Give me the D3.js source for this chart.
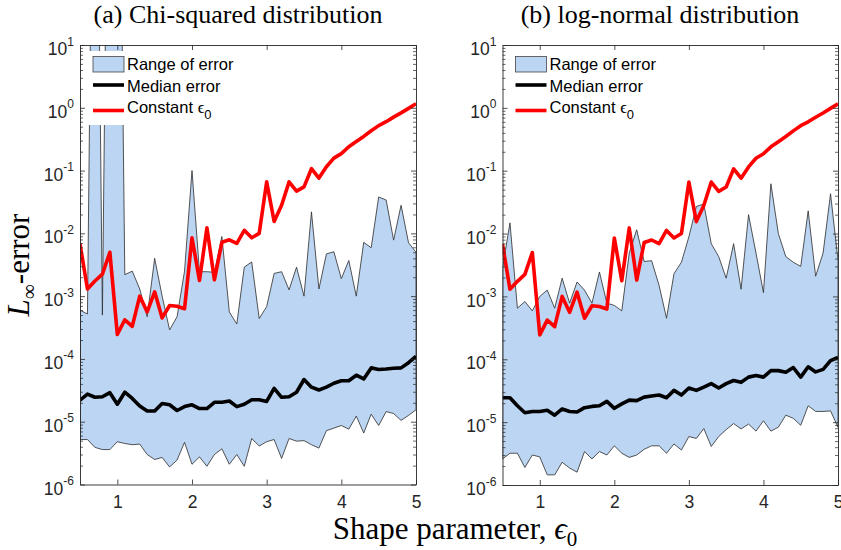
<!DOCTYPE html>
<html>
<head>
<meta charset="utf-8">
<script src="https://cdn.jsdelivr.net/npm/d3@7"></script>
<style>
  html, body { margin: 0; padding: 0; background: #fff; }
  svg { display: block; }
</style>
</head>
<body>
<svg id="chart" width="841" height="550"></svg>
<script>
// Shape parameter grid
const shapeParam = [0.5, 0.6, 0.7, 0.8, 0.9, 1.0, 1.1, 1.2, 1.3, 1.4, 1.5, 1.6, 1.7, 1.8, 1.9,
  2.0, 2.1, 2.2, 2.3, 2.4, 2.5, 2.6, 2.7, 2.8, 2.9, 3.0, 3.1, 3.2, 3.3, 3.4, 3.5, 3.6, 3.7,
  3.8, 3.9, 4.0, 4.1, 4.2, 4.3, 4.4, 4.5, 4.6, 4.7, 4.8, 4.9, 5.0];

// (a) Chi-squared distribution
const chiUpper = [6.0e-4, 5.2e-4, 1e13, 5.0e-4, 1e13, 1e13, 2.2e-3, 2.5e-3, 1.3e-3, 4.7e-4,
  4.0e-3, 1.0e-3, 2.9e-4, 4.7e-4, 2.5e-3, 0.1, 2.45e-3, 2.45e-3, 2.4e-3, 8.9e-3,
  5.6e-4, 3.6e-4, 2.9e-3, 3.5e-3, 4.4e-4, 6.8e-4, 2.3e-3, 2.45e-3, 1.26e-3, 2.9e-3,
  1.0e-3, 2.2e-2, 1.3e-3, 4.7e-3, 5.1e-3, 1.9e-3, 3.7e-3, 1.0e-3, 7.2e-3, 5.9e-3,
  3.8e-2, 3.4e-2, 7.8e-3, 2.8e-2, 7.1e-3, 5.0e-3];
const chiLower = [5.2e-6, 5.2e-6, 3.9e-6, 3.6e-6, 3.6e-6, 4.8e-6, 4.5e-6, 4.3e-6, 4.4e-6, 3.0e-6,
  2.5e-6, 2.7e-6, 1.9e-6, 2.45e-6, 4.7e-6, 2.1e-6, 2.75e-6, 1.95e-6, 3.0e-6, 3.7e-6,
  2.1e-6, 3.0e-6, 1.95e-6, 5.4e-6, 4.1e-6, 4.8e-6, 5.2e-6, 2.6e-6, 5.4e-6, 4.9e-6,
  5.0e-6, 4.3e-6, 3.8e-6, 7.2e-6, 7.9e-6, 8.7e-6, 7.6e-6, 1.23e-5, 6.6e-6, 1.32e-5,
  8.7e-6, 1.45e-5, 1.35e-5, 1.05e-5, 1.26e-5, 1.55e-5];
const chiMedian = [2.2e-5, 2.75e-5, 2.45e-5, 2.5e-5, 2.9e-5, 1.9e-5, 2.95e-5, 2.35e-5, 1.78e-5, 1.48e-5,
  1.48e-5, 1.95e-5, 1.86e-5, 1.51e-5, 1.74e-5, 1.86e-5, 1.62e-5, 1.62e-5, 2.04e-5, 2.04e-5,
  2.14e-5, 1.74e-5, 1.9e-5, 2.24e-5, 2.24e-5, 2.1e-5, 3.4e-5, 2.45e-5, 2.5e-5, 2.95e-5,
  4.7e-5, 3.55e-5, 3.2e-5, 3.55e-5, 4.1e-5, 4.5e-5, 4.5e-5, 5.5e-5, 4.8e-5, 7.2e-5,
  6.8e-5, 6.9e-5, 7.1e-5, 7.2e-5, 8.7e-5, 1.1e-4];

// (b) log-normal distribution
const logUpper = [2.8e-3, 1.48e-2, 6.5e-4, 8.3e-4, 5.9e-4, 1.0e-3, 1.26e-3, 6.5e-4, 1.95e-3, 7.8e-4,
  1.7e-3, 1.26e-3, 7.8e-4, 2.45e-3, 7.8e-4, 7.2e-4, 5.9e-4, 4.9e-3, 1.15e-2, 3.6e-3,
  3.7e-3, 1.5e-3, 4.5e-4, 2.3e-3, 3.5e-3, 8.9e-3, 2.7e-2, 2.95e-2, 6.9e-3, 4.3e-3,
  1.95e-3, 6.9e-3, 1.3e-3, 2.0e-2, 4.9e-3, 1.15e-3, 6.2e-2, 1.0e-2, 4.3e-3, 3.5e-3,
  3.0e-3, 2.3e-2, 2.1e-3, 4.9e-3, 4.3e-2, 3.8e-3];
const logLower = [2.6e-6, 3.2e-6, 3.2e-6, 1.9e-6, 3.0e-6, 2.8e-6, 1.45e-6, 1.45e-6, 2.3e-6, 1.86e-6,
  1.6e-6, 3.4e-6, 2.6e-6, 3.4e-6, 3.0e-6, 4.2e-6, 3.2e-6, 2.75e-6, 3.0e-6, 3.7e-6,
  4.2e-6, 4.2e-6, 3.2e-6, 4.5e-6, 3.6e-6, 5.9e-6, 5.5e-6, 7.9e-6, 4.1e-6, 5.9e-6,
  7.6e-6, 9.5e-6, 7.8e-6, 9.3e-6, 7.2e-6, 1.05e-5, 7.2e-6, 8.3e-6, 1.29e-5, 1.15e-5,
  8.9e-6, 1.82e-5, 1.48e-5, 1.48e-5, 1.51e-5, 8.3e-6];
const logMedian = [2.45e-5, 2.45e-5, 1.82e-5, 1.41e-5, 1.48e-5, 1.48e-5, 1.55e-5, 1.29e-5, 1.62e-5, 1.48e-5,
  1.45e-5, 1.7e-5, 1.78e-5, 1.82e-5, 2.14e-5, 1.66e-5, 1.95e-5, 2.24e-5, 2.2e-5, 2.5e-5,
  2.6e-5, 2.7e-5, 2.45e-5, 3.2e-5, 2.7e-5, 3.5e-5, 3.2e-5, 3.6e-5, 4.1e-5, 3.5e-5,
  4.1e-5, 4.6e-5, 4.3e-5, 5.2e-5, 5.5e-5, 5.2e-5, 6.6e-5, 6.6e-5, 6.2e-5, 7.4e-5,
  5.2e-5, 7.6e-5, 6.3e-5, 6.9e-5, 9.5e-5, 1.07e-4];

// Error with a constant shape parameter (same in both panels)
const constantErr = [6.8e-3, 1.3e-3, 1.74e-3, 2.24e-3, 5.0e-3, 2.45e-4, 4.2e-4, 3.3e-4, 1.0e-3, 5.6e-4,
  1.17e-3, 4.5e-4, 7.1e-4, 6.9e-4, 6.3e-4, 8.5e-3, 1.78e-3, 1.23e-2, 1.82e-3, 7.2e-3,
  7.9e-3, 6.9e-3, 1.12e-2, 8.5e-3, 1.0e-2, 6.6e-2, 1.55e-2, 2.8e-2, 6.6e-2, 4.7e-2,
  5.5e-2, 0.107, 7.6e-2, 0.115, 0.158, 0.186, 0.24, 0.29, 0.35, 0.43,
  0.52, 0.60, 0.71, 0.83, 0.98, 1.16];

const xTicks = [1, 2, 3, 4, 5];
const yExponents = [-6, -5, -4, -3, -2, -1, 0, 1];
const legendLabels = ["Range of error", "Median error", "Constant "];
const panelTitles = ["(a) Chi-squared distribution", "(b) log-normal distribution"];

const svg = d3.select("#chart");
const axisColor = "#262626";
const fillColor = "#bbd5f2";
const sansFont = "'Liberation Sans', Arial, sans-serif";
const serifFont = "'Liberation Serif', 'Times New Roman', serif";

const panels = [
  { left: 80, right: 416, top: 45, bottom: 484.5, upper: chiUpper, lower: chiLower, median: chiMedian, title: panelTitles[0], tx: 238 },
  { left: 502.5, right: 838, top: 45, bottom: 485, upper: logUpper, lower: logLower, median: logMedian, title: panelTitles[1], tx: 660 }
];

const minorTicks = [];
for (let e = -6; e < 1; e++) for (let m = 2; m <= 9; m++) minorTicks.push(m * Math.pow(10, e));
const majorTicks = yExponents.map(e => Math.pow(10, e));

panels.forEach((p, i) => {
  const x = d3.scaleLinear().domain([0.5, 5]).range([p.left, p.right]);
  const y = d3.scaleLog().domain([1e-6, 10]).range([p.bottom, p.top]);
  const g = svg.append("g");

  const clipId = "clip" + i;
  svg.append("clipPath").attr("id", clipId)
    .append("rect").attr("x", p.left).attr("y", p.top)
    .attr("width", p.right - p.left).attr("height", p.bottom - p.top);

  const plot = g.append("g").attr("clip-path", `url(#${clipId})`);
  const rows = shapeParam.map((s, k) => ({ s, lo: p.lower[k], hi: p.upper[k], med: p.median[k], c: constantErr[k] }));

  // Range band
  const band = d3.area().x(d => x(d.s)).y0(d => y(d.lo)).y1(d => y(Math.min(d.hi, 1e8)));
  plot.append("path").datum(rows).attr("d", band)
    .attr("fill", fillColor).attr("stroke", "#2b2b2b").attr("stroke-width", 0.8)
    .attr("stroke-linejoin", "miter");

  // Constant shape parameter
  plot.append("path").datum(rows)
    .attr("d", d3.line().x(d => x(d.s)).y(d => y(d.c)))
    .attr("fill", "none").attr("stroke", "#ff0000").attr("stroke-width", 3.6)
    .attr("stroke-linejoin", "round");

  // Median
  plot.append("path").datum(rows)
    .attr("d", d3.line().x(d => x(d.s)).y(d => y(d.med)))
    .attr("fill", "none").attr("stroke", "#000").attr("stroke-width", 3.6)
    .attr("stroke-linejoin", "round");

  // Axes (box with inward ticks)
  const styleAxis = sel => {
    sel.selectAll("path.domain").attr("stroke", axisColor).attr("stroke-width", 0.9);
    sel.selectAll(".tick line").attr("stroke", axisColor).attr("stroke-width", 0.8);
    sel.selectAll("text").attr("fill", axisColor).attr("font-family", sansFont);
  };

  const bottomAx = g.append("g").attr("transform", `translate(0,${p.bottom})`)
    .call(d3.axisBottom(x).tickValues(xTicks).tickFormat(d3.format("d"))
      .tickSizeInner(-5).tickSizeOuter(0).tickPadding(11));
  styleAxis(bottomAx);
  bottomAx.selectAll("text").attr("font-size", 17.5);

  const topAx = g.append("g").attr("transform", `translate(0,${p.top})`)
    .call(d3.axisTop(x).tickValues(xTicks).tickFormat("").tickSizeInner(-5).tickSizeOuter(0));
  styleAxis(topAx);

  const leftAx = g.append("g").attr("transform", `translate(${p.left},0)`)
    .call(d3.axisLeft(y).tickValues(majorTicks).tickSizeInner(-5).tickSizeOuter(0).tickPadding(6)
      .tickFormat(d => "10"));
  styleAxis(leftAx);
  leftAx.selectAll(".tick text").each(function(d) {
    const t = d3.select(this);
    t.text(null).attr("font-size", 17.5).attr("dy", "0.55em");
    t.append("tspan").text("10");
    t.append("tspan").text(String(Math.round(Math.log10(d))))
      .attr("font-size", 12).attr("dy", "-0.8em");
  });

  const rightAx = g.append("g").attr("transform", `translate(${p.right},0)`)
    .call(d3.axisRight(y).tickValues(majorTicks).tickFormat("").tickSizeInner(-5).tickSizeOuter(0));
  styleAxis(rightAx);

  [p.left, p.right].forEach((px, side) => {
    const ax = side === 0 ? d3.axisLeft : d3.axisRight;
    const m = g.append("g").attr("transform", `translate(${px},0)`)
      .call(ax(y).tickValues(minorTicks).tickFormat("").tickSizeInner(-3).tickSizeOuter(0));
    m.select("path.domain").remove();
    m.selectAll(".tick line").attr("stroke", axisColor).attr("stroke-width", 0.7);
  });

  // Legend
  const lx = p.left + 9, ly = p.top + 6;
  const lg = g.append("g");
  lg.append("rect").attr("x", lx).attr("y", ly).attr("width", 150).attr("height", 74).attr("fill", "#fff");
  lg.append("rect").attr("x", lx + 4).attr("y", ly + 5.5).attr("width", 31).attr("height", 15.5)
    .attr("fill", fillColor).attr("stroke", "#444").attr("stroke-width", 0.8);
  lg.append("line").attr("x1", lx + 4).attr("x2", lx + 35).attr("y1", ly + 34).attr("y2", ly + 34)
    .attr("stroke", "#000").attr("stroke-width", 3.6);
  lg.append("line").attr("x1", lx + 4).attr("x2", lx + 35).attr("y1", ly + 59.5).attr("y2", ly + 59.5)
    .attr("stroke", "#ff0000").attr("stroke-width", 3.6);
  const tx = lx + 38;
  lg.append("text").attr("x", tx).attr("y", ly + 19).text(legendLabels[0]);
  lg.append("text").attr("x", tx).attr("y", ly + 40.5).text(legendLabels[1]);
  const ct = lg.append("text").attr("x", tx).attr("y", ly + 62);
  ct.append("tspan").text(legendLabels[2]);
  ct.append("tspan").text("\u03f5").attr("font-family", serifFont);
  ct.append("tspan").text("0").attr("font-size", 13).attr("dy", 6);
  lg.selectAll("text").attr("font-family", sansFont).attr("font-size", 16.5).attr("fill", "#000");

  // Panel title
  svg.append("text").attr("x", p.tx).attr("y", 23).attr("text-anchor", "middle")
    .attr("font-family", serifFont).attr("font-size", 26).attr("fill", "#000").text(p.title);
});

// Axis labels
const yl = svg.append("text").attr("transform", "translate(29,265) rotate(-90)")
  .attr("text-anchor", "middle").attr("font-family", serifFont).attr("font-size", 31).attr("fill", "#000");
yl.append("tspan").text("L").attr("font-style", "italic");
yl.append("tspan").text("\u221e").attr("font-size", 21).attr("dy", 7);
yl.append("tspan").text("-error").attr("dy", -7);

const xl = svg.append("text").attr("x", 455).attr("y", 539).attr("text-anchor", "middle")
  .attr("font-family", serifFont).attr("font-size", 31).attr("fill", "#000");
xl.append("tspan").text("Shape parameter, ");
xl.append("tspan").text("\u03f5").attr("font-style", "italic");
xl.append("tspan").text("0").attr("font-size", 21).attr("dy", 7);
</script>
</body>
</html>
